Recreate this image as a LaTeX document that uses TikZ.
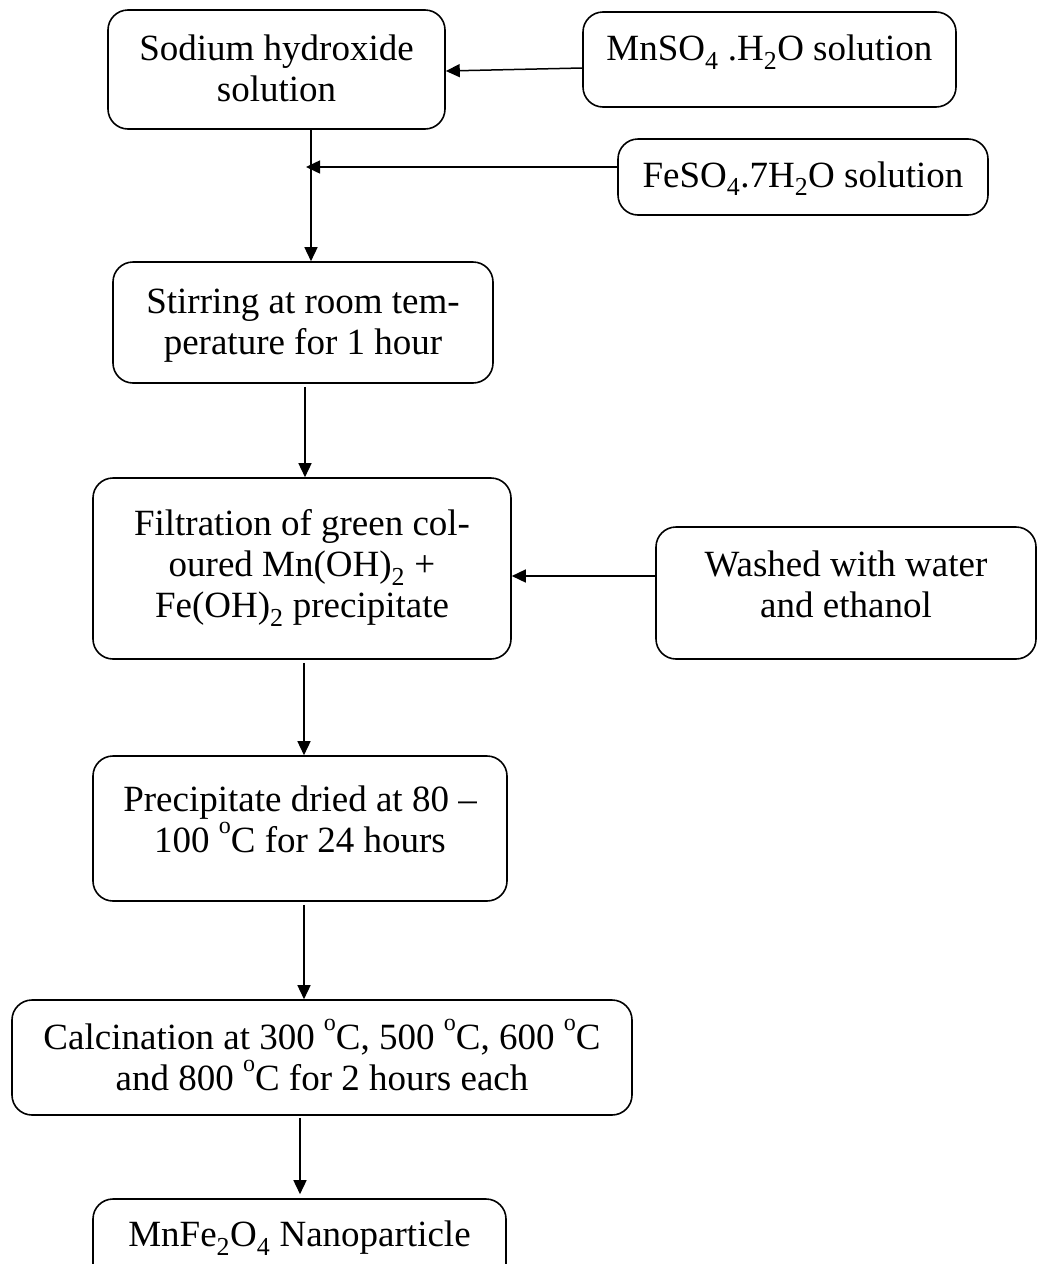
\documentclass[tikz,border=0pt]{standalone}
\usepackage{fontspec}
\setmainfont{Liberation Serif}
\usetikzlibrary{arrows.meta}
\newcommand\tx[2]{\raisebox{#1}[\height][\depth]{\begin{tabular}{@{}c@{}}#2\end{tabular}}}
\newcommand\dg{\raisebox{19pt}[0pt][0pt]{\fontsize{24}{24}\selectfont o}}
\begin{document}
\begin{tikzpicture}[x=1pt,y=-1pt,
  box/.style={draw, line width=1.6pt, rounded corners=20pt, inner sep=0pt,
    font=\fontsize{37}{41}\selectfont},
  arr/.style={line width=1.5pt, -{Triangle[length=14pt,width=13pt]}}]
\useasboundingbox (0,0) rectangle (1038,1264);
\clip (0,0) rectangle (1038,1264);
\node[box, minimum width=337pt, minimum height=119pt] (sod) at (276.5,69.5) {\tx{-3pt}{Sodium hydroxide\\solution}};
\node[box, minimum width=373pt, minimum height=95pt] (mn) at (769.5,59.5) {\tx{7pt}{MnSO\textsubscript{4} .H\textsubscript{2}O solution}};
\node[box, minimum width=370pt, minimum height=76pt] (fe) at (803,177) {\tx{-2pt}{FeSO\textsubscript{4}.7H\textsubscript{2}O solution}};
\node[box, minimum width=380pt, minimum height=121pt] (stir) at (303,322.5) {\tx{-3.4pt}{Stirring at room tem-\\perature for 1 hour}};
\node[box, minimum width=418pt, minimum height=181pt] (filt) at (302,568.5) {\tx{0pt}{Filtration of green col-\\oured Mn(OH)\textsubscript{2} +\\Fe(OH)\textsubscript{2} precipitate}};
\node[box, minimum width=380pt, minimum height=132pt] (wash) at (846,593) {\tx{4pt}{Washed with water\\and ethanol}};
\node[box, minimum width=414pt, minimum height=145pt] (prec) at (300,828.5) {\tx{5pt}{Precipitate dried at 80 --\\100 \dg C for 24 hours}};
\node[box, minimum width=620pt, minimum height=115pt] (calc) at (322,1057.5) {\tx{-4pt}{Calcination at 300 \dg C, 500 \dg C, 600 \dg C\\and 800 \dg C for 2 hours each}};
\node[box, minimum width=413pt, minimum height=91pt] (mnfe) at (299.5,1244.5) {\tx{6pt}{MnFe\textsubscript{2}O\textsubscript{4} Nanoparticle}};
\coordinate (j) at (311,167);
\draw[arr] (mn.west |- 0,68) -- (sod.east |- 0,71);
\draw[arr] (sod.south -| j) -- (stir.north -| j);
\draw[arr] (fe.west |- j) -- ([xshift=-5pt]j);
\draw[arr, shorten <=3pt] (stir.south -| 305,0) -- (filt.north -| 305,0);
\draw[arr] (wash.west |- 0,576) -- (filt.east |- 0,576);
\draw[arr, shorten <=3pt] (filt.south -| 304,0) -- (prec.north -| 304,0);
\draw[arr, shorten <=3pt] (prec.south -| 304,0) -- (calc.north -| 304,0);
\draw[arr, shorten <=2pt, shorten >=4pt] (calc.south -| 300,0) -- (mnfe.north -| 300,0);
\end{tikzpicture}
\end{document}
